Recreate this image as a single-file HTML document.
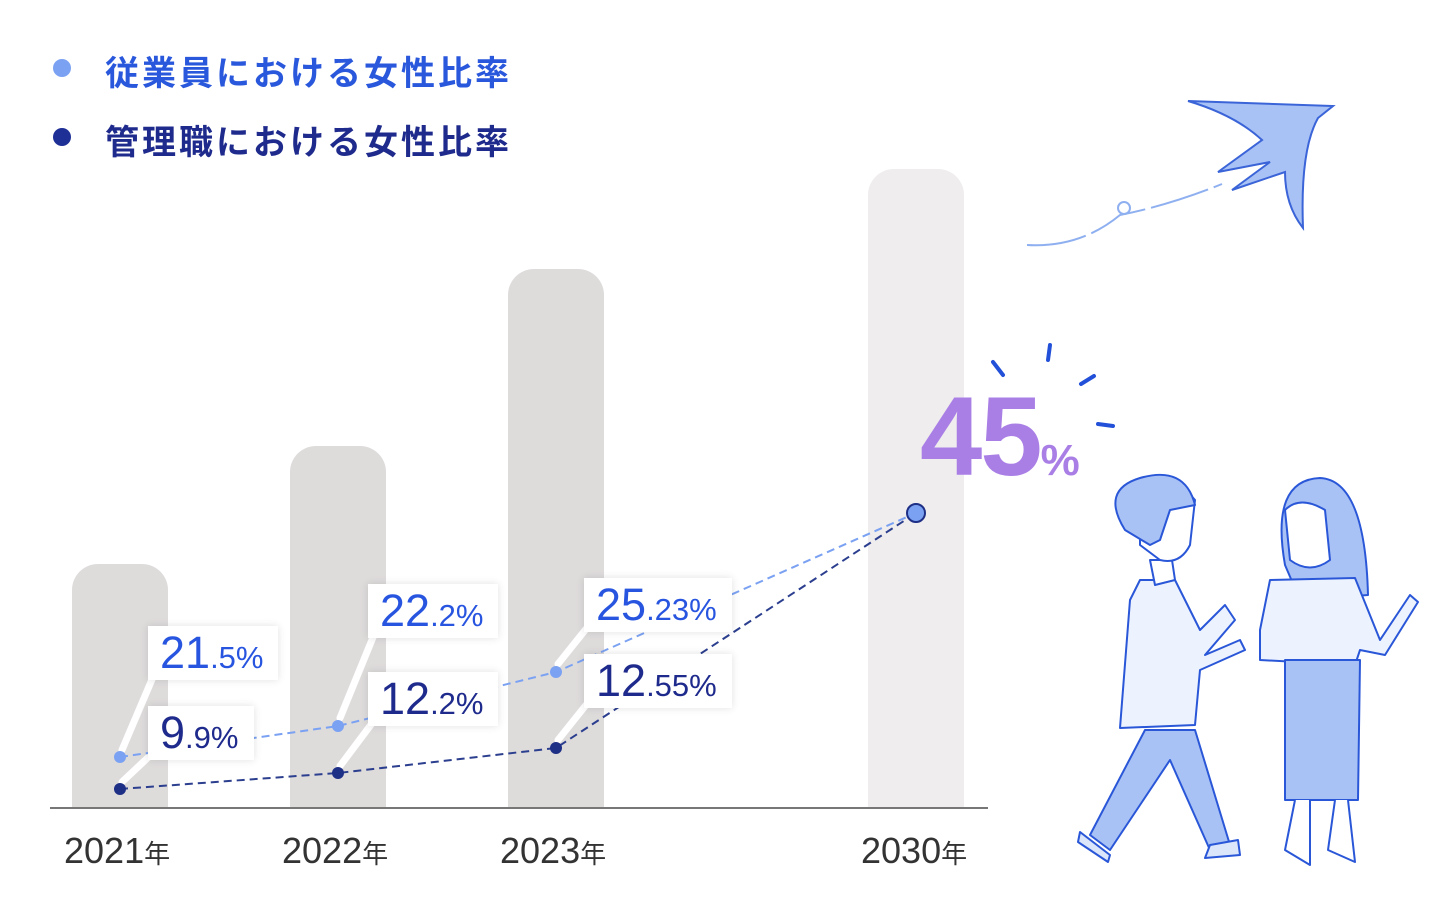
<!DOCTYPE html>
<html><head><meta charset="utf-8"><style>
body{margin:0;background:#fff;width:1440px;height:916px;overflow:hidden;position:relative;font-family:"Liberation Sans","Noto Sans CJK JP",sans-serif}
.bar{position:absolute;background:#dedbdb;border-radius:26px 26px 0 0;width:96px;bottom:108px}
.lg{position:absolute;left:105px;font-size:34px;font-weight:bold;letter-spacing:3px}
.dot{position:absolute;width:18px;height:18px;border-radius:50%}
.box{position:absolute;background:#fff;box-shadow:0 0 8px rgba(0,0,0,0.12);white-space:nowrap;padding-left:12px;box-sizing:border-box}
.box b{font-weight:normal;font-size:45px;line-height:54px}
.box i{font-style:normal;font-size:31px}
.yr{position:absolute;top:830px;font-size:36px;color:#333}
.yr span{font-size:26px}
</style></head><body>
<div class="dot" style="left:53px;top:59px;background:#7ba2f2"></div>
<div class="lg" style="top:46px;color:#2a58dc">従業員における女性比率</div>
<div class="dot" style="left:53px;top:128px;background:#1e2f96"></div>
<div class="lg" style="top:115px;color:#1e2a8c">管理職における女性比率</div>

<div class="bar" style="left:72px;height:244px"></div>
<div class="bar" style="left:290px;height:362px"></div>
<div class="bar" style="left:508px;height:539px"></div>
<div class="bar" style="left:868px;height:639px;background:#efeded"></div>
<div style="position:absolute;left:50px;top:807px;width:938px;height:2px;background:#777"></div>

<svg width="1440" height="916" style="position:absolute;left:0;top:0">
<g stroke="#fff" stroke-width="7" stroke-linecap="round">
<line x1="122" y1="750" x2="156" y2="670"/>
<line x1="122" y1="782" x2="156" y2="750"/>
<line x1="340" y1="718" x2="376" y2="630"/>
<line x1="340" y1="766" x2="376" y2="718"/>
<line x1="558" y1="664" x2="590" y2="624"/>
<line x1="558" y1="740" x2="590" y2="700"/>
</g>
<polyline points="120,757 338,726 556,672 916,513" fill="none" stroke="#7ba2f2" stroke-width="2" stroke-dasharray="8,5"/>
<polyline points="120,789 338,773 556,748 916,513" fill="none" stroke="#2c3f8f" stroke-width="2" stroke-dasharray="8,5"/>
<g fill="#7ba2f2"><circle cx="120" cy="757" r="6"/><circle cx="338" cy="726" r="6"/><circle cx="556" cy="672" r="6"/></g>
<g fill="#1e2f86"><circle cx="120" cy="789" r="6"/><circle cx="338" cy="773" r="6"/><circle cx="556" cy="748" r="6"/></g>
<circle cx="916" cy="513" r="9" fill="#7ba2f2" stroke="#1e2f86" stroke-width="2"/>
<g stroke="#2350d8" stroke-width="4" stroke-linecap="round">
<line x1="993" y1="362" x2="1003" y2="375"/><line x1="1050" y1="345" x2="1048" y2="360"/>
<line x1="1081" y1="384" x2="1094" y2="376"/><line x1="1098" y1="424" x2="1113" y2="426"/>
</g>
<path d="M1027,245 Q1080,248 1120,215 Q1170,205 1222,184" fill="none" stroke="#8fb0f0" stroke-width="2" stroke-dasharray="60,6"/>
<circle cx="1124" cy="208" r="6" fill="none" stroke="#8fb0f0" stroke-width="2"/>
<path d="M1188,101 L1333,106 L1318,118 Q1300,150 1303,228 Q1285,205 1285,172 L1232,190 L1270,162 L1218,172 L1262,140 Q1235,115 1188,101Z" fill="#a9c2f5" stroke="#3a64d8" stroke-width="2"/>
<g stroke="#2a57d8" stroke-width="2" stroke-linejoin="round">
<path d="M1145,730 L1090,835 L1110,850 L1170,760 L1210,850 L1230,845 L1195,730Z" fill="#a9c2f5"/>
<path d="M1080,832 L1110,855 L1108,862 L1078,842Z M1210,845 L1238,840 L1240,855 L1205,858Z" fill="#dbe6fb"/>
<path d="M1140,580 L1175,580 L1200,630 L1225,605 L1235,620 L1205,655 L1240,640 L1245,650 L1200,670 L1195,725 L1120,728 L1130,600Z" fill="#edf3fe"/>
<path d="M1150,560 L1155,585 L1175,580 L1172,560Z" fill="#fff"/>
<path d="M1140,505 Q1170,470 1195,500 L1190,545 Q1180,565 1160,560 L1140,545Z" fill="#fff"/>
<path d="M1125,530 Q1100,490 1140,478 Q1185,465 1195,505 L1170,510 L1160,540 L1150,545Z" fill="#a9c2f5"/>
</g>
<g stroke="#2a57d8" stroke-width="2" stroke-linejoin="round">
<path d="M1285,565 Q1270,480 1320,478 Q1365,480 1368,595 L1300,600Z" fill="#a9c2f5"/>
<path d="M1285,510 Q1300,495 1325,510 L1330,560 Q1310,575 1290,560Z" fill="#fff"/>
<path d="M1270,580 L1355,578 L1380,640 L1410,595 L1418,602 L1385,655 L1360,650 L1355,665 L1260,660 L1260,630Z" fill="#edf3fe"/>
<path d="M1285,660 L1360,660 L1358,800 L1285,800Z" fill="#a9c2f5"/>
<path d="M1295,800 L1285,850 L1310,865 L1310,800 M1335,800 L1328,850 L1355,862 L1348,800" fill="#fff"/>
</g>
</svg>

<div class="box" style="left:148px;top:626px;width:130px;height:54px;color:#2855e0"><b>21</b><i>.5%</i></div>
<div class="box" style="left:148px;top:706px;width:106px;height:54px;color:#1e2a8c"><b>9</b><i>.9%</i></div>
<div class="box" style="left:368px;top:584px;width:130px;height:54px;color:#2855e0"><b>22</b><i>.2%</i></div>
<div class="box" style="left:368px;top:672px;width:130px;height:54px;color:#1e2a8c"><b>12</b><i>.2%</i></div>
<div class="box" style="left:584px;top:578px;width:148px;height:54px;color:#2855e0"><b>25</b><i>.23%</i></div>
<div class="box" style="left:584px;top:654px;width:148px;height:54px;color:#1e2a8c"><b>12</b><i>.55%</i></div>

<div style="position:absolute;left:920px;top:372px;color:#a97fe6;font-weight:bold;white-space:nowrap"><span style="font-size:112px;letter-spacing:-2px">45</span><span style="font-size:44px">%</span></div>

<div class="yr" style="left:64px">2021<span>年</span></div>
<div class="yr" style="left:282px">2022<span>年</span></div>
<div class="yr" style="left:500px">2023<span>年</span></div>
<div class="yr" style="left:861px">2030<span>年</span></div>
</body></html>
